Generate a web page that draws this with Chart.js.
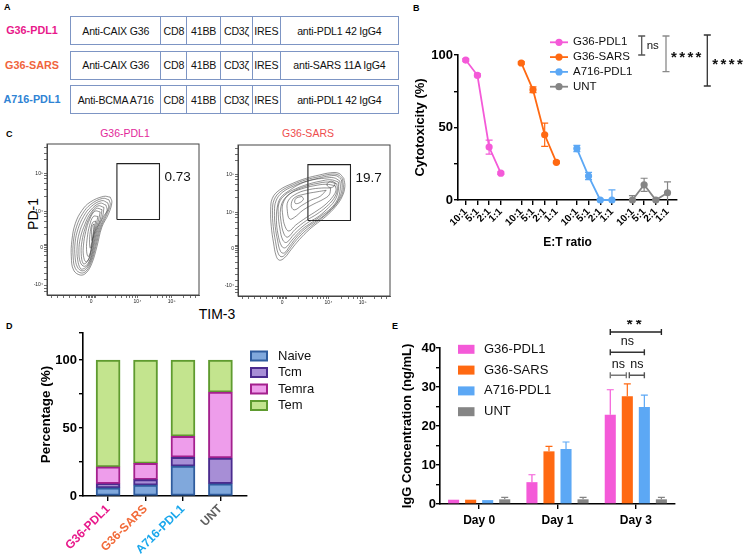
<!DOCTYPE html>
<html>
<head>
<meta charset="utf-8">
<script src="https://cdn.jsdelivr.net/npm/chart.js@4.4.1/dist/chart.umd.min.js"></script>
<style>
    body { margin: 0; background: #fff; font-family: "Liberation Sans", Arial, sans-serif; }
    #page { position: relative; width: 747px; height: 560px; overflow: hidden; background: #fff; }
    canvas { position: absolute; }
    .plab { position: absolute; font-weight: bold; font-size: 9px; }
    .clab { position: absolute; left: 0; width: 64px; text-align: center; line-height: 29px; font-weight: bold; font-size: 10.8px; }
    .crow { position: absolute; left: 70px; width: 329px; height: 29px; display: flex; border: 1.5px solid #7d95c4; box-sizing: border-box; }
    .cell { height: 100%; display: flex; align-items: center; justify-content: center; font-size: 10.6px; letter-spacing: -0.2px; border-left: 1.5px solid #7d95c4; box-sizing: border-box; white-space: nowrap; color: #111; }
    .cell:first-child { border-left: none; }
    .txt { position: absolute; white-space: nowrap; }
</style>
</head>
<body>
<div id="page">
    <div class="plab" style="left:4px;top:2px">A</div>
    <div class="plab" style="left:413px;top:3px">B</div>
    <div class="plab" style="left:6px;top:129px">C</div>
    <div class="plab" style="left:6px;top:321px">D</div>
    <div class="plab" style="left:392px;top:321px">E</div>
    <div id="panelA"></div>

    <div class="txt" style="left:85px;top:127px;width:80px;text-align:center;font-size:10.5px;color:#e2279a">G36-PDL1</div>
    <div class="txt" style="left:268px;top:127px;width:80px;text-align:center;font-size:10.5px;color:#ee4d4d">G36-SARS</div>
    <div class="txt" style="left:13px;top:206px;width:40px;text-align:center;font-size:14px;transform:rotate(-90deg)">PD-1</div>
    <div class="txt" style="left:187px;top:306px;width:60px;text-align:center;font-size:14px">TIM-3</div>

    <canvas id="cyto" width="347" height="262" style="left:400px;top:0px"></canvas>
    <canvas id="flow1" width="185" height="176" style="left:20px;top:140px"></canvas>
    <canvas id="flow2" width="185" height="176" style="left:211px;top:141px"></canvas>
    <canvas id="subsets" width="380" height="240" style="left:0px;top:320px"></canvas>
    <canvas id="igg" width="367" height="240" style="left:380px;top:320px"></canvas>
</div>

<script>
    // Panel A constructs
    const constructNames = ['G36-PDL1', 'G36-SARS', 'A716-PDL1'];
    const constructColors = ['#e8198b', '#f0643c', '#2f83d4'];
    const constructParts = [
        ['Anti-CAIX G36', 'CD8', '41BB', 'CD3ζ', 'IRES', 'anti-PDL1 42 IgG4'],
        ['Anti-CAIX G36', 'CD8', '41BB', 'CD3ζ', 'IRES', 'anti-SARS 11A IgG4'],
        ['Anti-BCMA A716', 'CD8', '41BB', 'CD3ζ', 'IRES', 'anti-PDL1 42 IgG4']
    ];

    // Panel B cytotoxicity
    const groupNames = ['G36-PDL1', 'G36-SARS', 'A716-PDL1', 'UNT'];
    const groupColors = ['#f45ad8', '#ff6912', '#5ca8f5', '#858585'];
    const ratioLabels = ['10:1', '5:1', '2:1', '1:1'];
    const cytoPdl1 = [96.5, 86, 36.5, 18.5];
    const cytoSars = [94.5, 76, 45, 26];
    const cytoA716 = [35.5, 16.5, 0, 0];
    const cytoUnt = [0, 10.5, 0, 5];
    const cytoErrPdl1 = [0.8, 1, 4.8, 0.8];
    const cytoErrSars = [0.8, 2, 8, 0.8];
    const cytoErrA716 = [2.2, 2.5, 0.5, 7];
    const cytoErrUnt = [3, 4.5, 0.5, 7.5];

    // Panel C flow contours (axis units 0-100)
    const flowXTickVals = [29, 59.5, 82];
    const flowXTickText = ['0', '10\u2074', '10\u2075'];
    const flowYTickVals = [6.6, 31.5, 55.5, 80.5];
    const flowYTickText = ['-10\u2074', '0', '10\u2074', '10\u2075'];
    const flowXMinor = [3, 7, 11, 15, 19, 23, 26, 27, 28, 30, 31, 32, 40, 45, 49, 52, 54.5, 56.5, 58, 68, 73, 76, 78.5, 80.5, 90, 94.5, 97.5];
    const flowYMinor = [2, 4, 10, 14, 18, 22, 26, 29, 30, 32.5, 33.5, 40, 45, 49, 52, 54, 65, 70, 74, 77, 79, 90, 94, 97.5];
    const pdl1Contours = [
        [[41.6, 64.8], [37.2, 65.3], [28.4, 61.5], [23, 56], [18.6, 47.3], [16.4, 36.3], [16, 25.3], [17.5, 16.5], [21.9, 13.2], [25.8, 14.7], [29.5, 20.9], [32.8, 31.9], [36.1, 45], [40.5, 53.8], [42.7, 61.5]],
        [[40.8, 63], [36.6, 64], [28.7, 60], [23.5, 54], [19.5, 45.5], [17.4, 35.6], [17.2, 25.2], [18.7, 17.5], [22.4, 14.6], [25.9, 16], [29.2, 22], [32.1, 32], [35.3, 44.5], [39.2, 53], [41.6, 59.8]],
        [[40, 61], [36, 62.5], [29, 58.5], [24, 52], [20.5, 44], [18.5, 35], [18.5, 25], [20, 18.5], [23, 16], [26, 17.5], [29, 23], [31.5, 32], [34.5, 44], [38, 52], [40.5, 58]],
        [[38.8, 59.5], [34.8, 60.8], [28.8, 56.3], [24.5, 49.5], [21.2, 41], [19.8, 32], [20.2, 23.2], [22, 17.5], [23.8, 17.3], [26.5, 19.2], [29, 24.5], [31.2, 33.5], [34, 44.5], [37.2, 52], [39.5, 56]],
        [[37.5, 58], [33.5, 59], [28.5, 54], [25, 47], [22, 38], [21, 29], [22, 21.5], [24.5, 19], [27, 21], [29, 26], [31, 35], [33.5, 45], [36.5, 52]],
        [[36.2, 56.5], [32.5, 57.3], [28.3, 52], [25.2, 44.5], [23, 35.5], [22.5, 27.5], [23.8, 20.8], [26, 21.5], [28, 25], [30, 32.5], [32.2, 42.5], [35, 50]],
        [[35, 55], [31.5, 55.5], [28, 50], [25.5, 42], [24, 33], [24, 26], [25.5, 22], [27.5, 24], [29, 30], [31, 40], [33.5, 48]],
        [[33.5, 52], [30.5, 52], [28, 46], [26.5, 38], [26, 30], [27, 25.5], [28.5, 28], [30, 36], [32, 45]],
        [[32, 49], [30, 48], [28.5, 42], [28, 35], [28.5, 31], [29.5, 35], [31, 43]],
        [[31, 47], [29.8, 46], [29.3, 40], [29.6, 36], [30.3, 40]]
    ];
    const sarsContours = [
        [[69.6, 77.9], [66.4, 81.2], [61, 81.6], [53.4, 80.1], [44.7, 77.9], [36, 74.6], [27.3, 70.2], [22.6, 64.7], [21.5, 57], [21.9, 46.1], [23.4, 35.1], [25.2, 26.3], [27.3, 23.7], [30.6, 25.3], [34.9, 30.7], [40.3, 37.3], [46.8, 43.9], [52.2, 48.3], [57.7, 52.6], [64.2, 59.2], [68.5, 65.8], [70.3, 72.4]],
        [[68.8, 77.5], [65.7, 80.3], [60.5, 80.6], [53.2, 79], [44.8, 77], [36.5, 73.8], [28.1, 69.3], [23.8, 63.8], [22.7, 56.5], [23.2, 46], [24.7, 36], [26.6, 27.8], [29, 26], [32.3, 29], [37.2, 35.6], [43.3, 42.2], [49.4, 47.2], [55, 51.5], [61, 56.8], [66.3, 63.2], [69.2, 70]],
        [[68, 77], [65, 79.5], [60, 79.5], [53, 78], [45, 76], [37, 73], [29, 68.5], [25, 63], [24, 56], [24.5, 46], [26, 37], [28, 29.5], [30.5, 28.5], [34, 33], [39.5, 40], [46, 46], [52, 50], [58, 54.5], [64, 60.5], [67.5, 67], [68.5, 72]],
        [[67, 76.2], [63, 78.3], [57, 78], [49.5, 77], [41.5, 74.5], [34, 70], [28, 65], [25.8, 58.5], [25.3, 50], [26.3, 41], [28.7, 33], [31.2, 32], [35.5, 37], [42, 44], [49, 49], [55, 53.3], [61, 58], [65.5, 64], [67.3, 71]],
        [[66, 75.5], [61, 77], [54, 76], [46, 74], [38, 71], [31, 67], [27, 61.5], [26.5, 54], [27.5, 45], [29.5, 37], [32, 35.5], [37, 41], [45, 48], [52, 52], [58, 57], [63.5, 63], [66, 70]],
        [[65, 74.3], [59.5, 75.5], [52, 74.5], [44, 72.5], [36, 69], [30.3, 64], [28, 57.5], [28.3, 49.5], [30.3, 41], [32.8, 39], [37.5, 44], [45, 50], [52, 54.3], [58, 59], [63, 64.5], [65.3, 70]],
        [[64, 73], [58, 74], [50, 73], [42, 71], [34, 67.5], [29.5, 61], [29.5, 53], [31, 46], [33.5, 43], [38, 47], [45, 52], [52, 56.5], [58, 61], [62.5, 66], [64.5, 70]],
        [[61, 71.5], [55, 71.5], [47, 70.5], [39, 68], [33, 63], [32.5, 56], [34, 51], [37, 52], [43, 57], [50, 61], [56, 64], [60, 67]],
        [[58, 70], [52, 69], [44, 67.5], [37, 65], [35, 60], [37, 57], [42, 60], [48, 63.5], [54, 66]],
        [[42, 66], [38, 64.5], [37.5, 61.5], [40, 61.5], [43, 64]],
        [[64, 75], [61, 76], [58.5, 74], [60, 72], [63, 72.5]]
    ];
    const gateBox = [46, 50, 74, 87];
    const gatePct = ['0.73', '19.7'];

    // Panel D T cell subsets (%)
    const subsetNames = ['Naive', 'Tcm', 'Temra', 'Tem'];
    const subsetFill = ['#80a8dc', '#a78ed6', '#ee9deb', '#c3e48e'];
    const subsetBorder = ['#2f5c9e', '#4a2b8e', '#a4218e', '#5f9b2f'];
    const naivePct = [6, 8, 22, 9];
    const tcmPct = [3, 4, 6.5, 19];
    const temraPct = [12.5, 12, 15.5, 48.5];
    const temPct = [78.5, 76, 56, 23.5];
    const subsetLabelColors = ['#e8198b', '#f26b3a', '#1aa7ec', '#5f5f5f'];

    // Panel E IgG concentration (ng/mL)
    const dayLabels = ['Day 0', 'Day 1', 'Day 3'];
    const iggPdl1 = [1.1, 5.6, 22.9];
    const iggSars = [1.1, 13.5, 27.6];
    const iggA716 = [1.0, 14.1, 24.9];
    const iggUnt = [1.2, 1.2, 1.2];
    const iggErrPdl1 = [0, 1.9, 6.4];
    const iggErrSars = [0, 1.3, 3.2];
    const iggErrA716 = [0, 1.8, 3.0];
    const iggErrUnt = [0.5, 0.5, 0.5];

    const FONT = '"Liberation Sans", Arial, sans-serif';
    Chart.defaults.font.family = FONT;
    Chart.defaults.color = '#000';
    Chart.defaults.animation = false;
    Chart.defaults.responsive = false;
    Chart.defaults.events = [];
    Chart.defaults.plugins.legend.display = false;
    Chart.defaults.plugins.tooltip.enabled = false;


    // Panel A boxes
    var panelA = document.getElementById('panelA');
    var partWidths = [90, 26, 34, 32, 28, 119];
    constructNames.forEach(function (name, r) {
        var top = 16 + r * 34.5;
        var lab = document.createElement('div');
        lab.className = 'clab';
        lab.style.top = top + 'px';
        lab.style.color = constructColors[r];
        lab.textContent = name;
        panelA.appendChild(lab);
        var row = document.createElement('div');
        row.className = 'crow';
        row.style.top = top + 'px';
        constructParts[r].forEach(function (p, k) {
            var c = document.createElement('div');
            c.className = 'cell';
            c.style.width = partWidths[k] + 'px';
            c.textContent = p;
            row.appendChild(c);
        });
        panelA.appendChild(row);
    });


    // error bars drawn from the chart's own elements
    function errorBars(errLists, both) {
        return {
            id: 'errbars',
            afterDatasetsDraw: function (chart) {
                var ctx = chart.ctx, ys = chart.scales.y, area = chart.chartArea;
                errLists.forEach(function (errs, di) {
                    var ds = chart.data.datasets[di];
                    var meta = chart.getDatasetMeta(di);
                    ctx.save();
                    ctx.strokeStyle = ds.borderColor;
                    ctx.lineWidth = 1.2;
                    meta.data.forEach(function (el, j) {
                        if (!errs[j]) return;
                        var v = typeof ds.data[j] === 'object' ? ds.data[j].y : ds.data[j];
                        var top = ys.getPixelForValue(v + errs[j]);
                        var bot = both ? Math.min(ys.getPixelForValue(v - errs[j]), area.bottom) : el.y;
                        ctx.beginPath();
                        ctx.moveTo(el.x, top); ctx.lineTo(el.x, bot);
                        ctx.moveTo(el.x - 3.5, top); ctx.lineTo(el.x + 3.5, top);
                        if (both && bot < area.bottom) { ctx.moveTo(el.x - 3.5, bot); ctx.lineTo(el.x + 3.5, bot); }
                        ctx.stroke();
                    });
                    ctx.restore();
                });
            }
        };
    }

    function stars(ctx, n, x, y, step) {
        ctx.font = 'bold 15px ' + FONT;
        ctx.textBaseline = 'middle';
        for (var k = 0; k < n; k++) ctx.fillText('*', x + k * step, y + 3);
    }


    // Panel B - cytotoxicity line chart
    var groupGap = 4.75;
    var cytoSeries = [cytoPdl1, cytoSars, cytoA716, cytoUnt];
    var cytoErrors = [cytoErrPdl1, cytoErrSars, cytoErrA716, cytoErrUnt];
    var cytoTicks = [];
    groupNames.forEach(function (g, gi) {
        ratioLabels.forEach(function (r, i) { cytoTicks.push(gi * groupGap + i); });
    });

    var cytoExtras = {
        id: 'cytoExtras',
        afterDraw: function (chart) {
            var ctx = chart.ctx;
            ctx.save();
            groupNames.forEach(function (name, i) {
                var y = 42.3 + i * 14.8;
                ctx.strokeStyle = groupColors[i];
                ctx.lineWidth = 1.8;
                ctx.beginPath(); ctx.moveTo(150, y); ctx.lineTo(168, y); ctx.stroke();
                ctx.fillStyle = groupColors[i];
                ctx.beginPath(); ctx.arc(159, y, 3.6, 0, Math.PI * 2); ctx.fill();
                ctx.fillStyle = '#111';
                ctx.font = '11.5px ' + FONT;
                ctx.textBaseline = 'middle';
                ctx.fillText(name, 173, y);
            });
            var brackets = [
                { x: 241.7, y1: 36, y2: 55, c: '#555', t: 'ns' },
                { x: 266, y1: 36, y2: 71.7, c: '#8a8a8a', t: 4 },
                { x: 307.3, y1: 35, y2: 86, c: '#333', t: 4 }
            ];
            brackets.forEach(function (b) {
                ctx.strokeStyle = b.c;
                ctx.lineWidth = 1.3;
                ctx.beginPath();
                ctx.moveTo(b.x, b.y1); ctx.lineTo(b.x, b.y2);
                ctx.moveTo(b.x - 3.5, b.y1); ctx.lineTo(b.x + 3.5, b.y1);
                ctx.moveTo(b.x - 3.5, b.y2); ctx.lineTo(b.x + 3.5, b.y2);
                ctx.stroke();
                ctx.fillStyle = '#111';
                var mid = (b.y1 + b.y2) / 2;
                if (b.t === 'ns') {
                    ctx.font = '11.5px ' + FONT;
                    ctx.textBaseline = 'middle';
                    ctx.fillText('ns', b.x + 5, mid);
                } else {
                    stars(ctx, b.t, b.x + 5, mid + 1.5, 8.2);
                }
            });
            ctx.restore();
        }
    };

    new Chart(document.getElementById('cyto'), {
        type: 'line',
        data: {
            datasets: cytoSeries.map(function (vals, g) {
                return {
                    label: groupNames[g],
                    data: vals.map(function (v, i) { return { x: g * groupGap + i, y: v }; }),
                    borderColor: groupColors[g],
                    backgroundColor: groupColors[g],
                    borderWidth: 1.8,
                    pointRadius: 3.6,
                    pointBorderWidth: 0,
                    clip: false
                };
            })
        },
        options: {
            layout: { padding: { top: 55, right: 70, left: 0, bottom: 0 } },
            scales: {
                x: {
                    type: 'linear', min: -0.66, max: 18.06,
                    afterBuildTicks: function (s) { s.ticks = cytoTicks.map(function (v) { return { value: v }; }); },
                    afterFit: function (s) { s.height = 62; },
                    border: { color: '#000', width: 1.6 },
                    grid: { drawOnChartArea: false, color: '#000', lineWidth: 1.4, tickLength: 5 },
                    ticks: {
                        autoSkip: false, minRotation: 45, maxRotation: 45, padding: 1,
                        font: { size: 10, weight: 'bold' },
                        callback: function (v, i) { return ratioLabels[i % 4]; }
                    },
                    title: { display: true, text: 'E:T ratio', font: { size: 12, weight: 'bold' }, padding: { top: 0, bottom: 12 } }
                },
                y: {
                    min: 0, max: 100,
                    afterFit: function (s) { s.width = 58; },
                    border: { color: '#000', width: 1.6 },
                    grid: { drawOnChartArea: false, color: '#000', lineWidth: 1.4, tickLength: 4 },
                    ticks: {
                        stepSize: 25, padding: 1,
                        font: { size: 13, weight: 'bold' },
                        callback: function (v) { return v % 50 === 0 ? v : ''; }
                    },
                    title: { display: true, text: 'Cytotoxicity (%)', font: { size: 13, weight: 'bold' }, padding: { top: 13, bottom: 0 } }
                }
            }
        },
        plugins: [errorBars(cytoErrors, true), cytoExtras]
    });


    // Panel C - flow contour plots
    function flowChart(id, contours, pct) {
        var datasets = contours.map(function (c) {
            return {
                data: c.concat([c[0]]).map(function (p) { return { x: p[0], y: p[1] }; }),
                showLine: true,
                borderColor: 'rgba(60,60,60,0.75)',
                borderWidth: 0.75,
                pointRadius: 0,
                tension: 0.4
            };
        });
        var g = gateBox;
        datasets.push({
            data: [{ x: g[0], y: g[1] }, { x: g[2], y: g[1] }, { x: g[2], y: g[3] }, { x: g[0], y: g[3] }, { x: g[0], y: g[1] }],
            showLine: true, borderColor: '#222', borderWidth: 1.1, pointRadius: 0, tension: 0
        });
        var frame = {
            id: 'frame',
            afterDraw: function (chart) {
                var ctx = chart.ctx, a = chart.chartArea;
                ctx.save();
                ctx.strokeStyle = '#444';
                ctx.lineWidth = 1;
                ctx.strokeRect(a.left, a.top, a.width, a.height);
                ctx.fillStyle = '#111';
                ctx.font = '13.5px ' + FONT;
                ctx.textBaseline = 'middle';
                var sx = chart.scales.x, sy = chart.scales.y;
                ctx.fillText(pct, sx.getPixelForValue(g[2]) + 5, sy.getPixelForValue(g[3] - (g[3] - g[1]) * 0.25));
                ctx.restore();
            }
        };
        function axis(vals, text, minor, fit) {
            var all = vals.concat(minor).sort(function (a, b) { return a - b; });
            return {
                min: 0, max: 100,
                afterBuildTicks: function (s) { s.ticks = all.map(function (v) { return { value: v }; }); },
                afterFit: fit,
                border: { color: '#444', width: 1 },
                grid: { drawOnChartArea: false, color: '#333', lineWidth: 0.7, tickLength: 3 },
                ticks: {
                    autoSkip: false, maxRotation: 0, padding: 1, color: '#222',
                    font: { size: 5 },
                    callback: function (v) { var k = vals.indexOf(v); return k >= 0 ? text[k] : ''; }
                }
            };
        }
        new Chart(document.getElementById(id), {
            type: 'scatter',
            data: { datasets: datasets },
            options: {
                layout: { padding: { top: 3, right: 6, left: 0, bottom: 0 } },
                scales: {
                    x: axis(flowXTickVals, flowXTickText, flowXMinor, function (s) { s.height = 21; }),
                    y: axis(flowYTickVals, flowYTickText, flowYMinor, function (s) { s.width = 27; })
                }
            },
            plugins: [frame]
        });
    }
    flowChart('flow1', pdl1Contours, gatePct[0]);
    flowChart('flow2', sarsContours, gatePct[1]);


    // Panel D - stacked subsets
    var subsetSeries = [naivePct, tcmPct, temraPct, temPct];
    var subsetLegend = {
        id: 'subsetLegend',
        afterDraw: function (chart) {
            var ctx = chart.ctx;
            ctx.save();
            subsetNames.forEach(function (name, i) {
                var y = 36 + i * 16.5;
                ctx.fillStyle = subsetFill[i];
                ctx.fillRect(251, y - 4.5, 16, 9);
                ctx.strokeStyle = subsetBorder[i];
                ctx.lineWidth = 2;
                ctx.strokeRect(251, y - 4.5, 16, 9);
                ctx.fillStyle = '#111';
                ctx.font = '13px ' + FONT;
                ctx.textBaseline = 'middle';
                ctx.fillText(name, 278, y);
            });
            ctx.restore();
        }
    };
    new Chart(document.getElementById('subsets'), {
        type: 'bar',
        data: {
            datasets: subsetSeries.map(function (vals, k) {
                return {
                    label: subsetNames[k],
                    data: vals.map(function (v, i) { return { x: i, y: v }; }),
                    backgroundColor: subsetFill[k],
                    borderColor: subsetBorder[k],
                    borderWidth: 2,
                    borderSkipped: false,
                    barThickness: 24
                };
            })
        },
        options: {
            layout: { padding: { top: 13, right: 133, left: 0, bottom: 0 } },
            scales: {
                x: {
                    type: 'linear', stacked: true, min: -0.67, max: 3.71, offset: false,
                    afterBuildTicks: function (s) { s.ticks = groupNames.map(function (n, i) { return { value: i }; }); },
                    afterFit: function (s) { s.height = 64; },
                    border: { color: '#000', width: 1.6 },
                    grid: { drawOnChartArea: false, color: '#000', lineWidth: 1.4, tickLength: 5, offset: false },
                    ticks: {
                        autoSkip: false, minRotation: 45, maxRotation: 45, padding: 1,
                        font: { size: 12, weight: 'bold' },
                        color: function (c) { return subsetLabelColors[c.index]; },
                        callback: function (v, i) { return groupNames[i]; }
                    }
                },
                y: {
                    stacked: true, min: 0, max: 120,
                    afterFit: function (s) { s.width = 83; },
                    border: { color: '#000', width: 1.6 },
                    grid: { drawOnChartArea: false, color: '#000', lineWidth: 1.4, tickLength: 4 },
                    ticks: {
                        stepSize: 25, padding: 2,
                        font: { size: 13, weight: 'bold' },
                        callback: function (v) { return v % 50 === 0 ? v : ''; }
                    },
                    title: { display: true, text: 'Percentage (%)', font: { size: 13.5, weight: 'bold' }, padding: { top: 38, bottom: 0 } }
                }
            }
        },
        plugins: [subsetLegend]
    });


    // Panel E - IgG grouped bars
    var iggSeries = [iggPdl1, iggSars, iggA716, iggUnt];
    var iggErrors = [iggErrPdl1, iggErrSars, iggErrA716, iggErrUnt];
    var iggExtras = {
        id: 'iggExtras',
        afterDraw: function (chart) {
            var ctx = chart.ctx, ys = chart.scales.y;
            ctx.save();
            groupNames.forEach(function (name, i) {
                var y = 29.3 + i * 20.8;
                ctx.fillStyle = groupColors[i];
                ctx.fillRect(78, y - 4.5, 16.5, 9);
                ctx.fillStyle = '#111';
                ctx.font = '13px ' + FONT;
                ctx.textBaseline = 'middle';
                ctx.fillText(name, 104, y);
            });
            // significance brackets on Day 3
            var barX = function (d) { return chart.getDatasetMeta(d).data[2].x; };
            var brackets = [
                { a: 0, b: 3, v: 44.1, t: '**', c: '#222' },
                { a: 0, b: 2, v: 38.9, t: 'ns', c: '#333' },
                { a: 0, b: 1, v: 33, t: 'ns', c: '#777' },
                { a: 1, b: 2, v: 33, t: 'ns', c: '#555' }
            ];
            brackets.forEach(function (br, k) {
                var x1 = barX(br.a) + (k === 3 ? 2 : 0);
                var x2 = barX(br.b) - (k === 2 ? 1 : 0);
                var y = ys.getPixelForValue(br.v);
                ctx.strokeStyle = br.c;
                ctx.lineWidth = 1.4;
                ctx.beginPath();
                ctx.moveTo(x1, y); ctx.lineTo(x2, y);
                ctx.moveTo(x1, y - 3); ctx.lineTo(x1, y + 3);
                ctx.moveTo(x2, y - 3); ctx.lineTo(x2, y + 3);
                ctx.stroke();
                ctx.fillStyle = '#111';
                if (br.t === 'ns') {
                    ctx.font = '12.5px ' + FONT;
                    ctx.textAlign = 'center';
                    ctx.textBaseline = 'middle';
                    ctx.fillText('ns', (x1 + x2) / 2, y - 11);
                } else {
                    ctx.textAlign = 'left';
                    stars(ctx, 2, (x1 + x2) / 2 - 9, y - 10, 9);
                }
            });
            ctx.restore();
        }
    };
    new Chart(document.getElementById('igg'), {
        type: 'bar',
        data: {
            labels: dayLabels,
            datasets: iggSeries.map(function (vals, k) {
                return {
                    label: groupNames[k],
                    data: vals,
                    backgroundColor: groupColors[k],
                    borderColor: groupColors[k],
                    borderWidth: 0,
                    categoryPercentage: 0.87,
                    barPercentage: 0.65
                };
            })
        },
        options: {
            layout: { padding: { top: 28, right: 72, left: 0, bottom: 0 } },
            scales: {
                x: {
                    afterFit: function (s) { s.height = 56; },
                    border: { color: '#000', width: 1.6 },
                    grid: { drawOnChartArea: false, color: '#000', lineWidth: 1.4, tickLength: 5, offset: false },
                    ticks: { padding: 4, font: { size: 12, weight: 'bold' } }
                },
                y: {
                    min: 0, max: 40,
                    afterFit: function (s) { s.width = 60; },
                    border: { color: '#000', width: 1.6 },
                    grid: { drawOnChartArea: false, color: '#000', lineWidth: 1.4, tickLength: 4 },
                    ticks: {
                        stepSize: 5, padding: 0,
                        font: { size: 13, weight: 'bold' },
                        callback: function (v) { return v % 10 === 0 ? v : ''; }
                    },
                    title: { display: true, text: 'IgG Concentration (ng/mL)', font: { size: 13, weight: 'bold' }, padding: { top: 20, bottom: 0 } }
                }
            }
        },
        plugins: [errorBars(iggErrors, false), iggExtras]
    });
</script>
</body>
</html>
